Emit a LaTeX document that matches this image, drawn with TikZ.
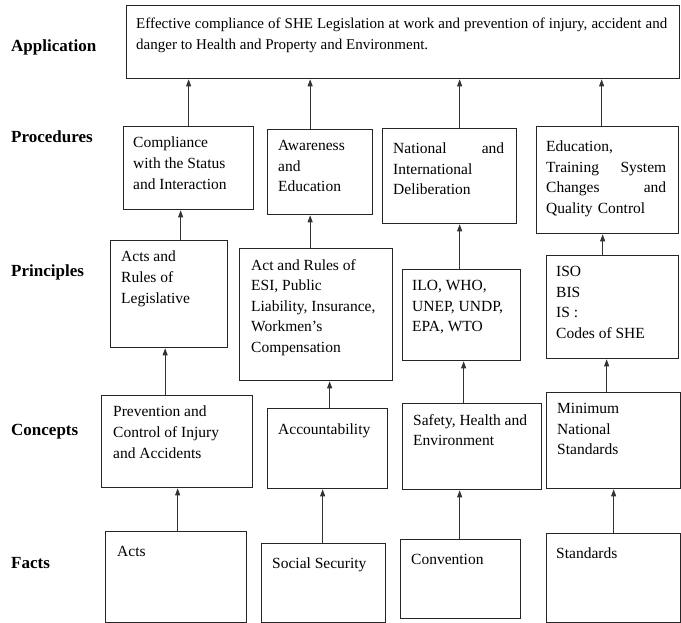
\documentclass[tikz,border=0pt]{standalone}
\usepackage{fontspec}
\setmainfont{Liberation Serif}
\usetikzlibrary{arrows.meta}
\begin{document}
\begin{tikzpicture}[x=1pt,y=1pt,
		box/.style={draw=black!85, line width=1.3pt, anchor=north west, inner sep=0pt},
		txt/.style={anchor=north west, inner sep=0pt, align=left, font=\fontsize{15.5}{20.6}\selectfont, execute at begin node=\strut},
		lvl/.style={anchor=west, inner sep=0pt, font=\fontsize{17}{20}\selectfont\bfseries},
		arr/.style={draw=black!80, line width=0.8pt, -{Triangle[length=7pt,width=5pt]}}]
		\useasboundingbox (0,0) rectangle (681,-623);
		\node [lvl] (lapp) at (11,-47) {Application};
		\node [lvl] (lproc) at (11,-137) {Procedures};
		\node [lvl] (lprin) at (11,-272) {Principles};
		\node [lvl] (lconc) at (11,-432) {Concepts};
		\node [lvl] (lfact) at (11,-563) {Facts};
		\node [box, minimum width=553, minimum height=73] (app) at (126,-5) {};
		\node [txt, align=justify, text width=531, font=\fontsize{15}{20.5}\selectfont] (appt) at ([shift={(10,-9)}]app.north west) {Effective compliance of SHE Legislation at work and prevention of injury, accident and\linebreak danger to Health and Property and Environment.};
		\node [box, minimum width=130, minimum height=83] (p1) at (123,-126) {};
		\node [txt] (p1t) at ([shift={(10,-11)}]p1.north west) {Compliance\\with the Status\\and Interaction};
		\node [box, minimum width=105, minimum height=85] (p2) at (267,-129) {};
		\node [txt] (p2t) at ([shift={(11,-11)}]p2.north west) {Awareness\\and\\Education};
		\node [box, minimum width=134, minimum height=95] (p3) at (382,-128) {};
		\node [txt, text width=111] (p3t) at ([shift={(11,-11)}]p3.north west) {National\hfill and\\International\\Deliberation};
		\node [box, minimum width=142, minimum height=107] (p4) at (536,-126) {};
		\node [txt, text width=120] (p4t) at ([shift={(10,-11)}]p4.north west) {Education,\\Training\hfill System\\Changes\hfill and\\Quality Control};
		\node [box, minimum width=117, minimum height=107] (pr1) at (110,-240) {};
		\node [txt] (pr1t) at ([shift={(11,-11)}]pr1.north west) {Acts and\\Rules of\\Legislative};
		\node [box, minimum width=153, minimum height=132] (pr2) at (239,-248) {};
		\node [txt] (pr2t) at ([shift={(12,-11)}]pr2.north west) {Act and Rules of\\ESI, Public\\Liability, Insurance,\\Workmen's\\Compensation};
		\node [box, minimum width=118, minimum height=91] (pr3) at (402,-269) {};
		\node [txt] (pr3t) at ([shift={(10,-11)}]pr3.north west) {ILO, WHO,\\UNEP, UNDP,\\EPA, WTO};
		\node [box, minimum width=132, minimum height=103] (pr4) at (546,-255) {};
		\node [txt] (pr4t) at ([shift={(10,-11)}]pr4.north west) {ISO\\BIS\\IS :\\Codes of SHE};
		\node [box, minimum width=151, minimum height=92] (c1) at (101,-395) {};
		\node [txt] (c1t) at ([shift={(12,-11)}]c1.north west) {Prevention and\\Control of Injury\\and Accidents};
		\node [box, minimum width=120, minimum height=80] (c2) at (267,-408) {};
		\node [txt] (c2t) at ([shift={(11,-12)}]c2.north west) {Accountability};
		\node [box, minimum width=139, minimum height=86] (c3) at (402,-403) {};
		\node [txt] (c3t) at ([shift={(11,-11)}]c3.north west) {Safety, Health and\\Environment};
		\node [box, minimum width=134, minimum height=96] (c4) at (546,-392) {};
		\node [txt] (c4t) at ([shift={(11,-11)}]c4.north west) {Minimum\\National\\Standards};
		\node [box, minimum width=141, minimum height=91] (f1) at (105,-531) {};
		\node [txt] (f1t) at ([shift={(12,-11)}]f1.north west) {Acts};
		\node [box, minimum width=124, minimum height=79] (f2) at (261,-543) {};
		\node [txt] (f2t) at ([shift={(11,-11)}]f2.north west) {Social Security};
		\node [box, minimum width=120, minimum height=79] (f3) at (400,-539) {};
		\node [txt] (f3t) at ([shift={(11,-11)}]f3.north west) {Convention};
		\node [box, minimum width=134, minimum height=89] (f4) at (546,-533) {};
		\node [txt] (f4t) at ([shift={(10,-11)}]f4.north west) {Standards};
		\draw [arr] (p1.north) -- (app.south -| p1.north);
		\draw [arr] ([xshift=-10]p2.north) -- ([xshift=-10]p2.north |- app.south);
		\draw [arr] ([xshift=10]p3.north) -- ([xshift=10]p3.north |- app.south);
		\draw [arr] ([xshift=-6]p4.north) -- ([xshift=-6]p4.north |- app.south);
		\draw [arr] ([xshift=-8]p1.south |- pr1.north) -- ([xshift=-8]p1.south);
		\draw [arr] ([xshift=-10]p2.south |- pr2.north) -- ([xshift=-10]p2.south);
		\draw [arr] ([xshift=-2]pr3.north) -- ([xshift=-2]pr3.north |- p3.south);
		\draw [arr] ([xshift=-5]p4.south |- pr4.north) -- ([xshift=-5]p4.south);
		\draw [arr] ([xshift=-4]pr1.south |- c1.north) -- ([xshift=-4]pr1.south);
		\draw [arr] ([xshift=2]c2.north) -- ([xshift=2]c2.north |- pr2.south);
		\draw [arr] ([xshift=2]pr3.south |- c3.north) -- ([xshift=2]pr3.south);
		\draw [arr] ([xshift=-6]pr4.south |- c4.north) -- ([xshift=-6]pr4.south);
		\draw [arr] ([xshift=1.5]f1.north) -- ([xshift=1.5]f1.north |- c1.south);
		\draw [arr] ([xshift=-1]f2.north) -- ([xshift=-1]f2.north |- c2.south);
		\draw [arr] ([xshift=-1]f3.north) -- ([xshift=-1]f3.north |- c3.south);
		\draw [arr] (f4.north) -- (f4.north |- c4.south);
\end{tikzpicture}
\end{document}
